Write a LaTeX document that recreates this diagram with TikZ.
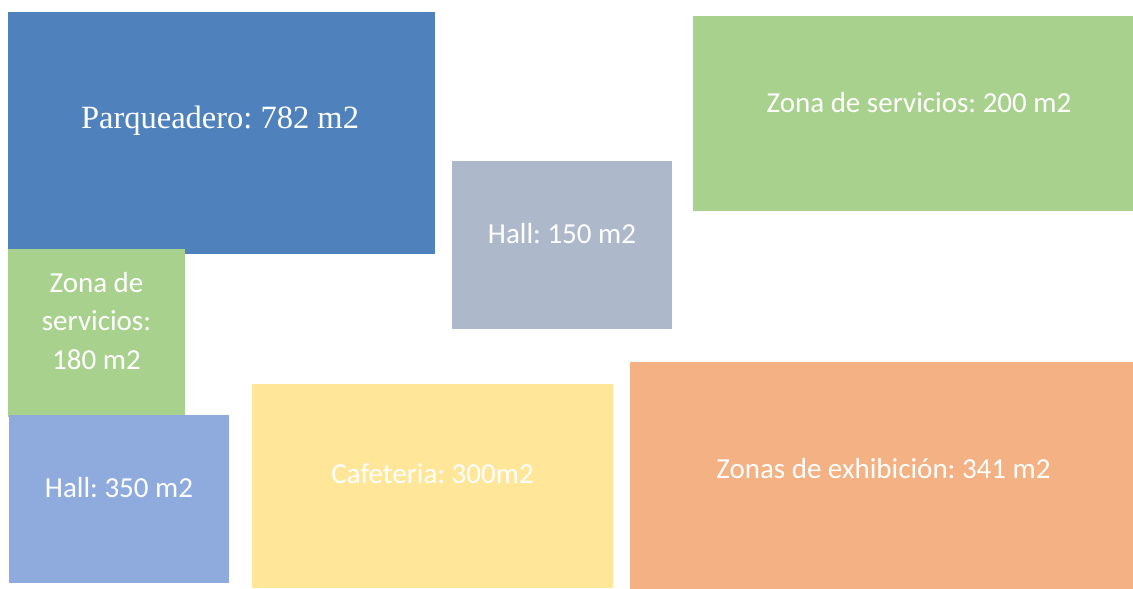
\documentclass[tikz,border=0pt]{standalone}
\usepackage{fontspec}
\setmainfont{Carlito}
\newfontfamily\timesf{Liberation Serif}
\frenchspacing
\definecolor{cBlue}{HTML}{4F81BD}
\definecolor{cGreen}{HTML}{A9D18E}
\definecolor{cHallA}{HTML}{8FAADC}
\definecolor{cHallB}{HTML}{ADB9CA}
\definecolor{cYellow}{HTML}{FFE699}
\definecolor{cOrange}{HTML}{F4B183}
\tikzset{
  zone/.style={rectangle, draw=none, inner sep=0pt, outer sep=0pt},
  lbl/.style={text=white, inner sep=0pt, font=\frenchspacing\fontsize{29}{38.5}\selectfont, anchor=base},
  lblserif/.style={text=white, inner sep=0pt, font=\frenchspacing\timesf\fontsize{32.5}{38}\selectfont, anchor=base}
}
\begin{document}
\begin{tikzpicture}[x=1pt,y=-1pt]
\useasboundingbox (0,0) rectangle (1133,589);
% boxes
\node[zone, fill=cBlue, minimum width=427pt, minimum height=242pt] (park) at (221.5,133) {};
\node[zone, fill=cGreen, minimum width=177pt, minimum height=168pt] (serv1) at (96.5,333) {};
\node[zone, fill=cHallA, minimum width=220pt, minimum height=168pt] (hall1) at (119,499) {};
\node[zone, fill=cHallB, minimum width=220pt, minimum height=168pt] (hall2) at (562,245) {};
\node[zone, fill=cYellow, minimum width=361pt, minimum height=204pt] (cafe) at (432.5,486) {};
\node[zone, fill=cOrange, minimum width=503pt, minimum height=227pt] (expo) at (881.5,475.5) {};
\node[zone, fill=cGreen, minimum width=440pt, minimum height=195pt] (serv2) at (913,113.5) {};
% labels
\node[lblserif] (tpark) at (220,128) {Parqueadero: 782 m2};
\node[lbl, anchor=center, align=center] (tserv1) at (96.5,321) {Zona de\\servicios:\\180 m2};
\node[lbl] (thall1) at (119,497) {Hall: 350 m2};
\node[lbl] (thall2) at (562,243) {Hall: 150 m2};
\node[lbl] (tcafe) at (432.5,483) {Cafeteria: 300m2};
\node[lbl] (texpo) at (883.5,478) {Zonas de exhibición: 341 m2};
\node[lbl] (tserv2) at (919,112) {Zona de servicios: 200 m2};
\end{tikzpicture}
\end{document}
